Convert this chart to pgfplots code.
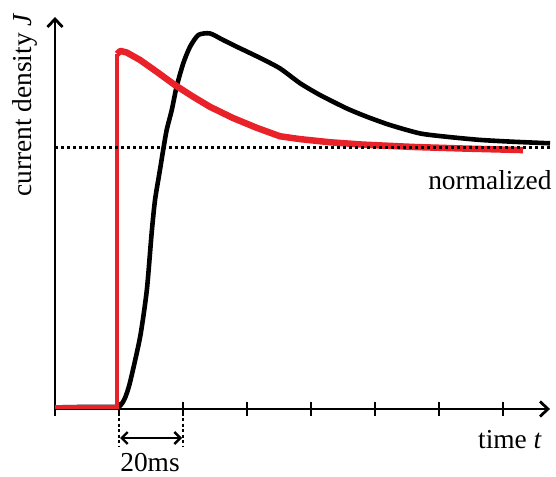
\documentclass[border=0pt]{standalone}
\usepackage{pgfplots}
\pgfplotsset{compat=1.18}
\usepackage{fontspec}
\setmainfont{Liberation Serif}
\usetikzlibrary{arrows.meta}
\definecolor{cred}{RGB}{232,34,40}
\begin{document}
\begin{tikzpicture}[font=\fontsize{27.5}{33}\selectfont]
\begin{axis}[
  anchor=origin, at={(0,0)},
  x=3.2bp, y=261bp,
  xmin=0, xmax=154.7, ymin=0, ymax=1.502,
  enlargelimits=false,
  axis lines=left,
  axis line style={line width=2.8bp, -{Straight Barb[length=8bp,width=15bp,line width=2.8bp]}},
  xtick={0,20,...,140}, xticklabels={},
  ytick=\empty,
  tick align=center,
  major tick length=14bp,
  tick style={line width=2.6bp, black},
  clip=false,
]
\addplot[black, line width=4.6bp, line join=round, smooth, tension=0.4] coordinates {
(0,0.006) (10,0.008) (18.5,0.008) (20.3,0.012) (21.8,0.04) (23.4,0.10)
(26.6,0.276) (28.7,0.456) (30.2,0.674) (31.25,0.80) (32.8,0.916)
(33.8,0.992) (34.9,1.069) (36.5,1.146) (38.0,1.235) (40.1,1.325) (42.2,1.388)
(44.8,1.433) (48.4,1.439) (52.5,1.414) (56.8,1.388) (64.1,1.345) (70.3,1.305)
(76.6,1.248) (82.8,1.203) (91.1,1.152) (97.4,1.12) (104.7,1.088) (114,1.056)
(122.4,1.043) (132.8,1.031) (143.1,1.024) (154.7,1.018)
};
\addplot[cred, line width=4bp] coordinates {(0,0.009) (19.4,0.009) (19.4,1.36)};
\addplot[cred, line width=6.5bp, line join=round] coordinates {
(19.4,1.36) (20.4,1.372) (22.4,1.366) (26.6,1.337) (31.8,1.292) (37.5,1.241)
(43.1,1.197) (48.4,1.158) (55.6,1.115) (63.1,1.077) (70.3,1.045) (76.6,1.034)
(85.9,1.022) (96.25,1.013) (111.9,1.004) (127.5,0.998) (146.25,0.992)
};
\addplot[black, line width=3bp, dash pattern=on 3bp off 3bp] coordinates {(0,1) (155,1)};
\end{axis}
\draw[black, line width=2.4bp, dash pattern=on 3bp off 2.5bp] (64bp,-9bp) -- (64bp,-37bp);
\draw[black, line width=2.4bp, dash pattern=on 3bp off 2.5bp] (128bp,-9bp) -- (128bp,-37bp);
\draw[black, line width=2.4bp, {Straight Barb[length=6bp,width=12bp]}-{Straight Barb[length=6bp,width=12bp]}] (65bp,-29bp) -- (127bp,-29bp);
\node at (95bp,-54bp) {20ms};
\node at (455bp,-31bp) {time \textit{t}};
\node[anchor=east] at (500bp,229bp) {normalized};
\node[rotate=90] at (-30bp,304bp) {current density \textit{J}};
\pgfresetboundingbox
\useasboundingbox (-55bp,-68bp) rectangle (501bp,409bp);
\end{tikzpicture}
\end{document}
